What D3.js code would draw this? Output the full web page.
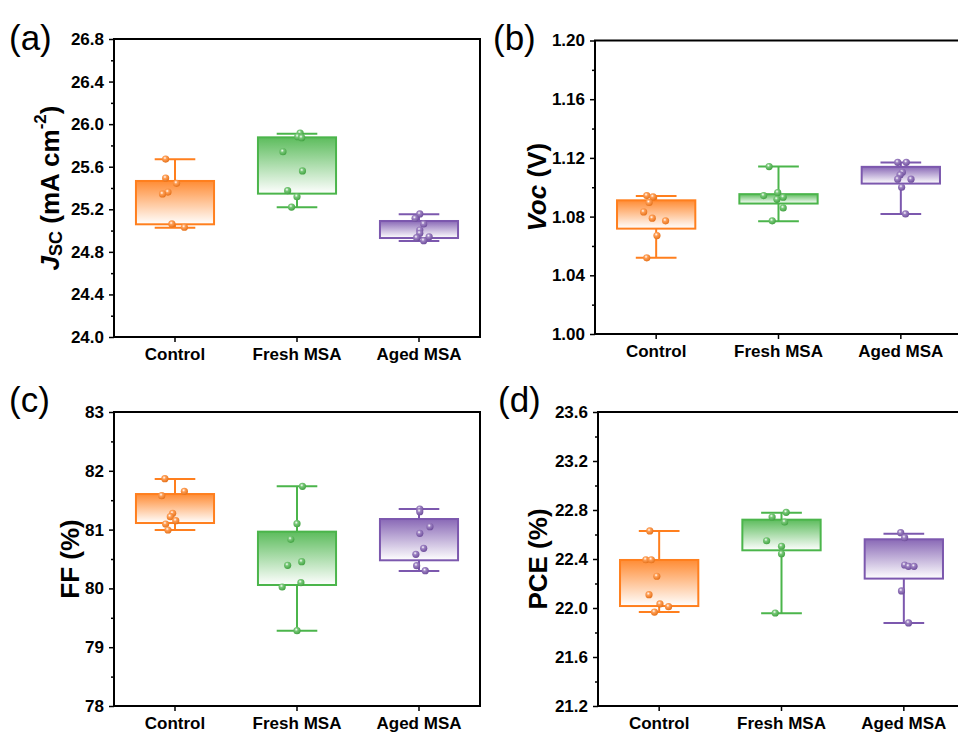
<!DOCTYPE html>
<html>
<head>
<meta charset="utf-8">
<script src="https://cdn.jsdelivr.net/npm/d3@7/dist/d3.min.js"></script>
<style>
  html, body { margin: 0; padding: 0; background: #fff; }
  svg { display: block; }
  text { font-family: Arial, "Liberation Sans", sans-serif; }
</style>
</head>
<body>
<svg id="chart" width="958" height="734"></svg>
<script>
// ---------- data ----------
const categories = ["Control", "Fresh MSA", "Aged MSA"];
const seriesColors = ["#FF7F1E", "#4BB54B", "#7C58AE"];

// (a) Jsc
const jscTicks = [24.0, 24.4, 24.8, 25.2, 25.6, 26.0, 26.4, 26.8];
const jscPoints = [
  [25.672, 25.494, 25.444, 25.362, 25.344, 25.062, 25.031],
  [25.917, 25.882, 25.873, 25.741, 25.560, 25.375, 25.318, 25.221],
  [25.156, 25.115, 25.062, 25.005, 24.974, 24.933, 24.942, 24.905]
];
const jscJitter = [
  [-0.12, -0.12, 0.02, -0.09, -0.16, -0.04, 0.12],
  [0.04, 0.01, 0.06, -0.18, 0.07, -0.12, 0.0, -0.07],
  [0.01, -0.05, 0.06, 0.01, 0.01, -0.03, 0.13, 0.06]
];
const jscQ3 = [25.466, 25.876, 25.090];
const jscQ1 = [25.059, 25.347, 24.930];
const jscWhiskerHigh = [25.669, 25.910, 25.153];
const jscWhiskerLow = [25.027, 25.219, 24.902];

// (b) Voc
const vocTicks = [1.00, 1.04, 1.08, 1.12, 1.16, 1.20];
const vocPoints = [
  [1.0943, 1.0934, 1.0896, 1.0832, 1.0789, 1.0771, 1.0671, 1.0519],
  [1.1141, 1.0943, 1.0964, 1.0932, 1.0918, 1.0859, 1.0771],
  [1.1170, 1.1170, 1.1102, 1.1084, 1.1055, 1.1055, 1.1000, 1.0818]
];
const vocJitter = [
  [-0.12, -0.04, -0.09, -0.16, -0.05, 0.12, 0.01, -0.12],
  [-0.12, -0.19, -0.01, 0.06, -0.02, 0.06, -0.08],
  [-0.04, 0.07, 0.02, -0.01, -0.04, 0.13, 0.01, 0.06]
];
const vocQ3 = [1.0911, 1.0953, 1.1139];
const vocQ1 = [1.0718, 1.0889, 1.1025];
const vocWhiskerHigh = [1.0941, 1.1141, 1.1168];
const vocWhiskerLow = [1.0519, 1.0769, 1.0818];

// (c) FF
const ffTicks = [78, 79, 80, 81, 82, 83];
const ffPoints = [
  [81.866, 81.651, 81.577, 81.277, 81.220, 81.152, 81.095, 80.993],
  [81.736, 81.100, 80.835, 80.454, 80.393, 80.097, 80.024, 79.281],
  [81.350, 81.305, 81.050, 80.937, 80.682, 80.580, 80.386, 80.301]
];
const ffJitter = [
  [-0.13, 0.12, -0.17, -0.03, -0.06, 0.01, -0.12, -0.09],
  [0.07, 0.0, -0.08, 0.06, -0.12, 0.05, -0.19, 0.0],
  [0.01, 0.01, 0.14, 0.01, 0.06, -0.04, -0.03, 0.08]
];
const ffQ3 = [81.605, 80.965, 81.180];
const ffQ1 = [81.112, 80.058, 80.478];
const ffWhiskerHigh = [81.861, 81.736, 81.350];
const ffWhiskerLow = [80.993, 79.281, 80.296];

// (d) PCE
const pceTicks = [21.2, 21.6, 22.0, 22.4, 22.8, 23.2, 23.6];
const pcePoints = [
  [22.629, 22.394, 22.394, 22.259, 22.109, 22.033, 22.011, 21.967],
  [22.781, 22.743, 22.702, 22.549, 22.504, 22.443, 21.959],
  [22.615, 22.574, 22.351, 22.340, 22.340, 22.139, 21.878]
];
const pceJitter = [
  [-0.12, -0.17, -0.10, -0.03, -0.13, 0.01, 0.12, -0.06],
  [0.06, -0.12, 0.04, -0.19, 0.0, 0.0, -0.08],
  [-0.04, 0.01, 0.01, 0.06, 0.13, -0.03, 0.06]
];
const pceQ3 = [22.392, 22.721, 22.561];
const pceQ1 = [22.016, 22.471, 22.240];
const pceWhiskerHigh = [22.629, 22.778, 22.607];
const pceWhiskerLow = [21.967, 21.957, 21.878];

// ---------- drawing ----------
const svg = d3.select("#chart");
const defs = svg.append("defs");

seriesColors.forEach((c, i) => {
  const lg = defs.append("linearGradient").attr("id", "boxGrad" + i)
    .attr("x1", 0).attr("y1", 0).attr("x2", 0).attr("y2", 1);
  lg.append("stop").attr("offset", "0%").attr("stop-color", c).attr("stop-opacity", 0.9);
  lg.append("stop").attr("offset", "100%").attr("stop-color", c).attr("stop-opacity", 0.0);
  const rg = defs.append("radialGradient").attr("id", "ball" + i)
    .attr("cx", "40%").attr("cy", "35%").attr("r", "65%");
  rg.append("stop").attr("offset", "0%").attr("stop-color", "#ffffff");
  rg.append("stop").attr("offset", "35%").attr("stop-color", d3.interpolateRgb(c, "#fff")(0.25));
  rg.append("stop").attr("offset", "100%").attr("stop-color", d3.color(c).darker(0.3));
});

const panels = [
  { label: "(a)", lx: 9, ly: 50, left: 114, right: 480, top: 39, bottom: 337,
    domain: [24.0, 26.8], ticks: jscTicks, minorStep: 0.2, fmt: ".1f",
    points: jscPoints, jitter: jscJitter, q1: jscQ1, q3: jscQ3, wl: jscWhiskerLow, wh: jscWhiskerHigh,
    titleX: 50, title: "jsc" },
  { label: "(b)", lx: 493, ly: 50, left: 595, right: 962, top: 40.5, bottom: 334,
    domain: [1.00, 1.20], ticks: vocTicks, minorStep: 0.02, fmt: ".2f",
    points: vocPoints, jitter: vocJitter, q1: vocQ1, q3: vocQ3, wl: vocWhiskerLow, wh: vocWhiskerHigh,
    titleX: 537, title: "voc" },
  { label: "(c)", lx: 9, ly: 412, left: 114, right: 480, top: 412, bottom: 706,
    domain: [78, 83], ticks: ffTicks, minorStep: 0.5, fmt: "d",
    points: ffPoints, jitter: ffJitter, q1: ffQ1, q3: ffQ3, wl: ffWhiskerLow, wh: ffWhiskerHigh,
    titleX: 70, title: "FF (%)" },
  { label: "(d)", lx: 498, ly: 412, left: 598, right: 965, top: 412, bottom: 706,
    domain: [21.2, 23.6], ticks: pceTicks, minorStep: 0.2, fmt: ".1f",
    points: pcePoints, jitter: pceJitter, q1: pceQ1, q3: pceQ3, wl: pceWhiskerLow, wh: pceWhiskerHigh,
    titleX: 538, title: "PCE (%)" }
];

panels.forEach(p => {
  const g = svg.append("g");
  const x = d3.scaleBand().domain(categories).range([p.left, p.right]).padding(0);
  const y = d3.scaleLinear().domain(p.domain).range([p.bottom, p.top]);
  const bw = x.bandwidth() * 0.64;
  const cw = bw * 0.52;

  // minor ticks
  const minor = d3.range(p.domain[0], p.domain[1] + 1e-9, p.minorStep)
    .filter(v => !p.ticks.some(t => Math.abs(t - v) < 1e-9));
  g.append("g").attr("transform", `translate(${p.left},0)`)
    .call(d3.axisLeft(y).tickValues(minor).tickSize(3).tickFormat(""))
    .call(s => s.select(".domain").remove())
    .call(s => s.selectAll("line").attr("stroke", "#000").attr("stroke-width", 1.5));

  // major y axis
  g.append("g").attr("transform", `translate(${p.left},0)`)
    .call(d3.axisLeft(y).tickValues(p.ticks).tickSize(5).tickPadding(5).tickFormat(d3.format(p.fmt)))
    .call(s => s.select(".domain").remove())
    .call(s => s.selectAll("line").attr("stroke", "#000").attr("stroke-width", 1.5))
    .call(s => s.selectAll("text").attr("font-size", 17).attr("font-weight", "bold").attr("fill", "#000")
      .attr("font-family", "Arial, 'Liberation Sans', sans-serif"));

  // x axis
  g.append("g").attr("transform", `translate(0,${p.bottom})`)
    .call(d3.axisBottom(x).tickSize(5).tickPadding(6))
    .call(s => s.select(".domain").remove())
    .call(s => s.selectAll("line").attr("stroke", "#000").attr("stroke-width", 1.5))
    .call(s => s.selectAll("text").attr("font-size", 17).attr("font-weight", "bold").attr("fill", "#000")
      .attr("font-family", "Arial, 'Liberation Sans', sans-serif"));

  // boxes
  categories.forEach((c, i) => {
    const cx = x(c) + x.bandwidth() / 2;
    const col = seriesColors[i];
    const bg = g.append("g");
    bg.append("line").attr("x1", cx).attr("x2", cx)
      .attr("y1", y(p.wh[i])).attr("y2", y(p.wl[i]))
      .attr("stroke", col).attr("stroke-width", 2);
    [p.wh[i], p.wl[i]].forEach(v => {
      bg.append("line").attr("x1", cx - cw / 2).attr("x2", cx + cw / 2)
        .attr("y1", y(v)).attr("y2", y(v)).attr("stroke", col).attr("stroke-width", 2);
    });
    bg.append("rect").attr("x", cx - bw / 2).attr("width", bw)
      .attr("y", y(p.q3[i])).attr("height", y(p.q1[i]) - y(p.q3[i]))
      .attr("fill", "#fff");
    bg.append("rect").attr("x", cx - bw / 2).attr("width", bw)
      .attr("y", y(p.q3[i])).attr("height", y(p.q1[i]) - y(p.q3[i]))
      .attr("fill", `url(#boxGrad${i})`).attr("stroke", col).attr("stroke-width", 2);
    bg.selectAll("circle.pt").data(p.points[i]).join("circle")
      .attr("class", "pt")
      .attr("cx", (d, k) => cx + p.jitter[i][k] * bw)
      .attr("cy", d => y(d))
      .attr("r", 3.6)
      .attr("fill", `url(#ball${i})`);
  });

  // frame
  g.append("rect").attr("x", p.left).attr("y", p.top)
    .attr("width", p.right - p.left).attr("height", p.bottom - p.top)
    .attr("fill", "none").attr("stroke", "#000").attr("stroke-width", 2);

  // panel label
  svg.append("text").attr("x", p.lx).attr("y", p.ly)
    .attr("font-size", 35).attr("fill", "#000").text(p.label);

  // y title
  const cy = (p.top + p.bottom) / 2;
  const t = svg.append("text")
    .attr("transform", `translate(${p.titleX},${cy}) rotate(-90)`)
    .attr("text-anchor", "middle").attr("dominant-baseline", "central")
    .attr("font-size", 26).attr("font-weight", "bold").attr("fill", "#000");
  if (p.title === "jsc") {
    t.append("tspan").attr("font-style", "italic").text("J");
    t.append("tspan").attr("font-size", 18).attr("dy", 6).text("SC");
    t.append("tspan").attr("dy", -6).text(" (mA cm");
    t.append("tspan").attr("font-size", 17).attr("dy", -10).text("-2");
    t.append("tspan").attr("dy", 10).text(")");
  } else if (p.title === "voc") {
    t.append("tspan").attr("font-style", "italic").text("Voc");
    t.append("tspan").text(" (V)");
  } else {
    t.text(p.title);
  }
});
</script>
</body>
</html>
